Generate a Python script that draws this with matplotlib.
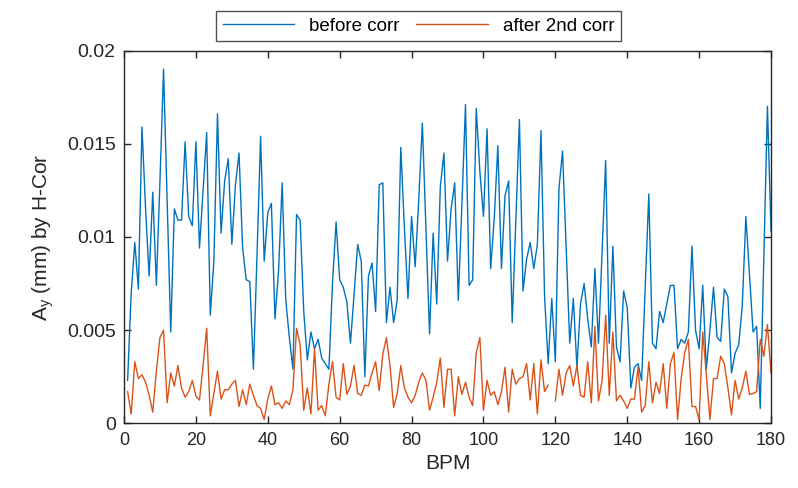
import numpy as np
import matplotlib
matplotlib.use("Agg")
import matplotlib.pyplot as plt

plt.rcParams['font.family'] = ['Liberation Sans', 'DejaVu Sans']

# values in units of 1e-3 mm
before_corr = [
    2.3, 7.0, 9.7, 7.2, 15.9, 11.5, 7.9, 12.4, 7.4, 13.0, 19.0, 12.0, 4.9, 11.5, 10.9, 10.9, 15.1, 11.1, 10.6, 15.1,
    9.4, 12.5, 15.6, 5.8, 8.7, 16.6, 10.2, 13.0, 14.2, 9.6, 12.8, 14.5, 9.4, 7.7, 7.6, 2.9, 9.0, 15.4, 8.7, 11.3,
    11.8, 5.6, 8.2, 12.9, 6.6, 4.6, 2.9, 11.2, 10.9, 6.0, 3.4, 4.9, 4.0, 4.5, 3.5, 3.2, 2.9, 7.5, 10.8, 7.7,
    7.3, 6.5, 4.3, 6.9, 9.6, 8.7, 2.5, 7.9, 8.6, 6.0, 12.8, 12.9, 5.4, 7.3, 5.4, 6.6, 14.8, 10.5, 6.7, 11.1,
    8.4, 12.0, 16.1, 10.5, 4.8, 10.2, 6.4, 12.7, 14.5, 8.7, 11.5, 12.9, 6.6, 11.7, 17.1, 7.4, 7.7, 16.9, 13.5, 11.1,
    15.8, 8.3, 11.0, 14.9, 8.3, 12.2, 13.0, 5.4, 10.8, 16.3, 7.1, 8.8, 9.7, 8.3, 9.6, 15.7, 6.8, 3.2, 6.7, 3.3,
    12.6, 14.6, 9.5, 4.3, 6.7, 3.0, 6.4, 7.5, 5.6, 4.1, 8.3, 4.3, 9.2, 14.1, 4.3, 9.5, 4.1, 3.3, 7.1, 6.2,
    1.9, 3.0, 3.2, 2.3, 7.3, 12.3, 4.3, 4.0, 6.0, 5.4, 6.4, 7.4, 7.4, 4.0, 4.5, 4.3, 4.9, 9.5, 5.0, 4.0,
    7.4, 2.9, 5.0, 7.3, 4.6, 4.4, 7.2, 6.8, 2.7, 3.75, 4.2, 6.3, 11.1, 8.0, 4.9, 5.2, 0.8, 9.0, 17.0, 10.3,
]
after_2nd_corr = [
    1.7, 0.5, 3.3, 2.4, 2.6, 2.2, 1.5, 0.6, 2.8, 4.6, 5.0, 1.1, 2.7, 2.0, 3.1, 1.9, 1.4, 1.7, 2.3, 1.45,
    1.25, 3.1, 5.1, 0.4, 1.6, 2.8, 1.3, 1.8, 1.8, 2.1, 2.3, 0.9, 1.8, 1.0, 2.1, 1.5, 0.95, 0.8, 0.2, 1.3,
    2.0, 1.0, 1.1, 0.8, 1.2, 1.0, 1.8, 5.1, 4.2, 0.7, 1.9, 0.5, 4.0, 0.7, 0.95, 0.4, 2.1, 3.3, 1.4, 1.25,
    3.2, 1.55, 2.0, 3.1, 1.6, 1.5, 2.05, 2.0, 2.7, 3.3, 1.75, 3.7, 4.6, 3.1, 0.85, 1.6, 3.1, 1.9, 1.4, 1.1,
    1.5, 2.2, 2.7, 2.3, 0.7, 1.4, 2.2, 3.5, 0.85, 2.9, 2.9, 0.4, 2.5, 1.55, 2.2, 1.4, 0.95, 3.8, 4.6, 0.7,
    2.3, 1.5, 1.7, 1.0, 1.7, 3.0, 0.6, 2.9, 2.1, 2.4, 2.5, 3.2, 1.25, 3.2, 0.5, 3.4, 1.7, 2.05, np.nan, 1.2,
    2.9, 1.5, 2.7, 3.1, 2.0, 3.1, 1.5, 1.4, 3.3, 1.1, 5.2, 1.2, 2.3, 5.8, 1.5, 4.9, 1.2, 1.5, 1.2, 0.8,
    1.3, 1.3, 3.0, 0.6, 0.95, 3.3, 1.1, 2.2, 1.6, 3.2, 0.8, 3.2, 3.8, 0.2, 2.4, 3.8, 4.5, 0.9, 0.9, 0.2,
    4.9, 2.6, 0.2, 2.4, 2.4, 3.6, 3.2, 1.9, 0.45, 2.3, 1.3, 1.9, 2.8, 1.55, 1.6, 1.7, 4.5, 3.6, 5.3, 2.7,
]
bpm = np.arange(1, len(before_corr) + 1)
x_ticks = [0, 20, 40, 60, 80, 100, 120, 140, 160, 180]
y_ticks = [0, 0.005, 0.01, 0.015, 0.02]
y_tick_labels = ['0', '0.005', '0.01', '0.015', '0.02']

fig = plt.figure(figsize=(7.98, 4.88), dpi=100)
ax = fig.add_axes([0.1554, 0.1326, 0.9662 - 0.1554, 0.8965 - 0.1326])

ax.plot(bpm, np.array(before_corr) * 1e-3, color='#0072BD', lw=1.0, label='before corr')
ax.plot(bpm, np.array(after_2nd_corr) * 1e-3, color='#D95319', lw=1.0, label='after 2nd corr')

ax.set_xlim(0, 180)
ax.set_ylim(0, 0.02)
ax.set_xticks(x_ticks)
ax.set_yticks(y_ticks)
ax.set_yticklabels(y_tick_labels)
ax.tick_params(axis='both', direction='in', length=5, width=1.0, top=True, right=True,
               colors='#262626', pad=6)
ax.tick_params(axis='x', labelsize=13)
ax.tick_params(axis='y', labelsize=14)
for s in ax.spines.values():
    s.set_color('#262626')
    s.set_linewidth(1.0)

ax.set_xlabel('BPM', fontsize=15, color='#262626', labelpad=4)
ax.set_ylabel('A$_\\mathregular{y}$ (mm) by H-Cor', fontsize=15, color='#262626', labelpad=8)

leg = fig.legend(loc='center', bbox_to_anchor=(0.5244, 0.9467), ncol=2, fontsize=13.5,
                 frameon=True, fancybox=False, edgecolor='#262626', handlelength=3.8,
                 columnspacing=0.9, handletextpad=0.8, borderpad=0.35, borderaxespad=0)
leg.get_frame().set_linewidth(1.0)

fig.savefig('out.png', dpi=100)
